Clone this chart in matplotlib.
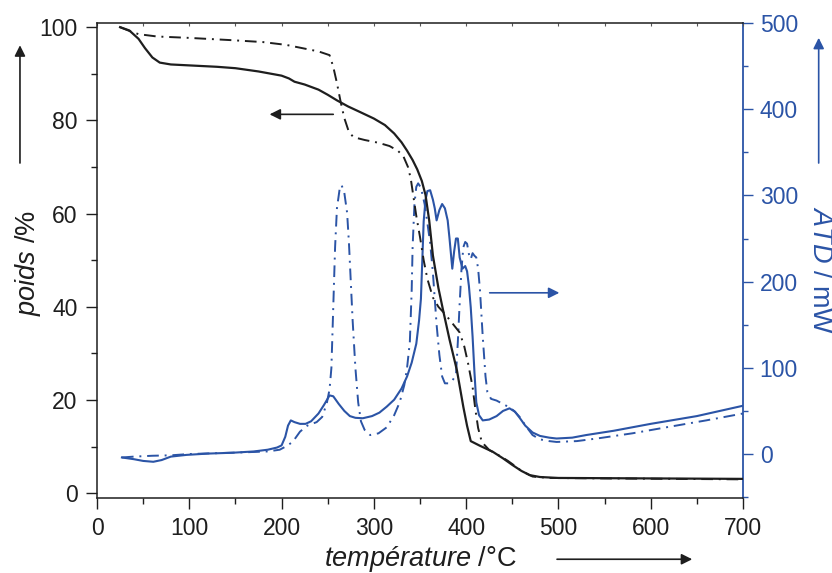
import matplotlib
matplotlib.use("Agg")
from matplotlib import pyplot as plt
from matplotlib.ticker import MultipleLocator

plt.rcParams['font.family'] = ['Liberation Sans', 'DejaVu Sans']
plt.rcParams['mathtext.fontset'] = 'custom'
plt.rcParams['mathtext.rm'] = 'Liberation Sans'
plt.rcParams['mathtext.it'] = 'Liberation Sans:italic'

# TG, sample 1 (solid) - temperature in °C, weight in %
tg1_t = [25, 35, 45, 52, 60, 68, 80, 100, 130, 150, 175, 200, 208, 214, 225, 240,
         250, 260, 272, 285, 300, 312, 322, 330, 336, 342, 347, 352, 356, 360,
         364, 370, 375, 382, 390, 397, 401, 405, 415, 429, 440, 450, 460, 469,
         480, 500, 600, 700]
tg1_w = [100, 99.3, 97.5, 95.5, 93.5, 92.4, 92.0, 91.8, 91.5, 91.2, 90.5, 89.6,
         89.0, 88.3, 87.7, 86.6, 85.5, 84.3, 83.0, 81.8, 80.4, 79.0, 77.2, 75.3,
         73.5, 71.5, 69.5, 67.0, 64.0, 58.5, 51.0, 44.0, 39.3, 33.0, 26.4, 18.5,
         14.5, 11.2, 10.2, 8.9, 7.5, 6.1, 4.8, 3.9, 3.5, 3.3, 3.2, 3.1]

# TG, sample 2 (dash-dot)
tg2_t = [25, 35, 45, 65, 100, 147, 180, 205, 220, 240, 252, 256, 260, 264, 268,
         273, 278, 290, 305, 317, 326, 332, 337, 340, 343, 346, 350, 354, 358,
         364, 370, 377, 385, 393, 398, 402, 407, 410, 413, 417, 425, 435, 445,
         452, 460, 472, 490, 550, 700]
tg2_w = [100, 99.2, 98.5, 98.0, 97.7, 97.2, 96.8, 96.2, 95.6, 94.8, 94.0, 91.5,
         88.0, 84.0, 80.5, 77.5, 76.4, 75.8, 75.2, 74.5, 73.5, 72.3, 70.0, 67.5,
         63.5, 59.5, 55.0, 50.0, 46.0, 42.0, 40.0, 38.5, 36.5, 34.5, 31.5, 28.0,
         22.8, 18.0, 14.0, 11.0, 9.3, 8.2, 7.0, 6.0, 4.8, 3.6, 3.3, 3.2, 3.0]

# ATD, sample 1 (solid) - mW
atd1_t = [27, 40, 50, 61, 70, 80, 97, 120, 147, 170, 185, 195, 200, 204, 207,
          210, 214, 220, 226, 232, 240, 246, 252, 256, 262, 268, 274, 280, 288,
          298, 306, 314, 322, 330, 336, 341, 346, 349, 351, 352, 353, 354, 356,
          358, 361, 364, 366, 368, 371, 374, 377, 380, 382, 385, 387, 389, 391,
          393, 396, 399, 401, 403, 405, 407, 409, 411, 414, 418, 425, 433, 440,
          447, 453, 458, 464, 472, 480, 490, 498, 515, 530, 560, 600, 650, 700]
atd1_p = [-4, -6, -8, -9, -7, -3, -1, 0.5, 1.5, 3, 5, 7.5, 10, 20, 33, 39, 37,
          35, 35, 38, 47, 57, 68, 67, 58, 50, 44, 42, 41.5, 44, 48, 55, 63, 76,
          90, 106, 128, 155, 180, 210, 240, 270, 295, 305, 306, 295, 285, 271,
          283, 290, 285, 271, 250, 215, 235, 250, 250, 228, 215, 218, 212, 195,
          170, 136, 95, 60, 45, 39, 40, 44, 50, 53, 49, 42, 33, 25, 21, 19, 18,
          19, 22, 27, 35, 44, 56]

# ATD, sample 2 (dash-dot)
atd2_t = [27, 40, 60, 80, 100, 130, 160, 185, 198, 205, 212, 220, 228, 238, 244,
          249, 252, 254, 256, 258, 260, 263, 265, 268, 271, 273, 275, 277, 280,
          283, 286, 290, 296, 305, 314, 322, 328, 333, 336, 339, 341, 342, 344,
          346, 348, 351, 355, 358, 361, 364, 366, 368, 371, 374, 377, 381, 385,
          389, 391, 393, 395, 397, 399, 401, 403, 405, 407, 409, 411, 413, 415,
          418, 421, 423, 427, 433, 440, 447, 452, 458, 465, 472, 480, 490, 498,
          520, 545, 580, 617, 660, 700]
atd2_p = [-4, -3, -2, -1.5, 0, 1, 2, 3, 5, 9, 14, 26, 33, 37, 43, 59, 75, 100,
          170, 240, 285, 308, 312, 303, 280, 245, 200, 155, 100, 60, 38, 28, 22,
          24, 31, 45, 60, 80, 100, 130, 190, 240, 290, 310, 314, 309, 290, 268,
          245, 210, 180, 150, 115, 90, 82, 82, 85, 92, 130, 175, 215, 240, 246,
          244, 232, 226, 233, 230, 228, 215, 190, 136, 90, 72, 64, 62, 58, 54,
          50, 43, 32, 22, 17, 15, 14, 15, 18.5, 24, 31, 39, 47]

x_ticks = [0, 100, 200, 300, 400, 500, 600, 700]
w_ticks = [0, 20, 40, 60, 80, 100]
atd_ticks = [0, 100, 200, 300, 400, 500]

black = '#1e1e1e'
blue = '#2b54a6'
dashdot = (0, (6, 3, 1, 3))

fig = plt.figure(figsize=(8.32, 5.73), dpi=100)
ax = fig.add_axes([0.1166, 0.1309, 0.7764, 0.829])
ax2 = ax.twinx()
ax2.set_position([0.1166, 0.1309, 0.7764, 0.829])

ax2.plot(atd1_t, atd1_p, color=blue, lw=1.5, solid_joinstyle='round')
ax2.plot(atd2_t, atd2_p, color=blue, lw=1.4, linestyle=dashdot)
ax.plot(tg1_t, tg1_w, color=black, lw=1.6, solid_joinstyle='round')
ax.plot(tg2_t, tg2_w, color=black, lw=1.4, linestyle=dashdot)
ax.set_zorder(ax2.get_zorder() + 1)
ax.patch.set_visible(False)

ax.set_xlim(0, 700)
ax.set_ylim(-1, 100.9)
ax2.set_ylim(-51, 500)

ax.set_xticks(x_ticks)
ax.set_yticks(w_ticks)
ax2.set_yticks(atd_ticks)
ax.xaxis.set_minor_locator(MultipleLocator(50))
ax.yaxis.set_minor_locator(MultipleLocator(10))
ax2.yaxis.set_minor_locator(MultipleLocator(50))

ax.tick_params(which='major', direction='out', length=8, width=1, pad=6,
               labelsize=16.5, colors=black)
ax.tick_params(which='minor', direction='out', length=4.5, width=1, colors=black)
ax2.tick_params(which='major', direction='out', length=7, width=1, pad=5,
                labelsize=16.5, colors=blue)
ax2.tick_params(which='minor', direction='out', length=3.5, width=1, colors=blue)

for s in ['left', 'bottom', 'top']:
    ax.spines[s].set_color(black)
    ax.spines[s].set_linewidth(1.1)
ax.spines['right'].set_visible(False)
for s in ['left', 'bottom', 'top']:
    ax2.spines[s].set_visible(False)
ax2.spines['right'].set_color(blue)
ax2.spines['right'].set_linewidth(1.3)

top = ax.secondary_xaxis('top')
top.set_xticks(list(range(0, 701, 50)))
top.tick_params(direction='in', length=2.5, width=0.8, labeltop=False, colors='#555555')
top.spines['top'].set_visible(False)

# axis labels
fig.text(0.505, 0.012, r'$\mathit{température}$ /°C', fontsize=19.5, color=black,
         ha='center', va='baseline')
fig.text(0.034, 0.541, r'$\mathit{poids}$ /%', fontsize=19.5, color=black,
         rotation=90, ha='center', va='center')
fig.text(0.986, 0.529, r'$\mathit{ATD}$ / mW', fontsize=19.5, color=blue,
         rotation=270, ha='center', va='center')

# arrows outside the axes
arr = dict(arrowstyle='-|>', mutation_scale=16, lw=1.2, shrinkA=0, shrinkB=0)
ax.annotate('', xy=(0.024, 0.921), xytext=(0.024, 0.7155), xycoords='figure fraction',
            arrowprops=dict(arr, color=black))
ax.annotate('', xy=(0.984, 0.934), xytext=(0.984, 0.7155), xycoords='figure fraction',
            arrowprops=dict(arr, color=blue))
ax.annotate('', xy=(0.832, 0.024), xytext=(0.6695, 0.024), xycoords='figure fraction',
            arrowprops=dict(arr, color=black))

# arrows telling which axis each family of curves uses
ax.annotate('', xy=(187, 81.3), xytext=(256, 81.3),
            arrowprops=dict(arr, color=black))
ax2.annotate('', xy=(501, 187), xytext=(425.5, 187),
             arrowprops=dict(arr, color=blue))

fig.savefig('out.png', dpi=100)
